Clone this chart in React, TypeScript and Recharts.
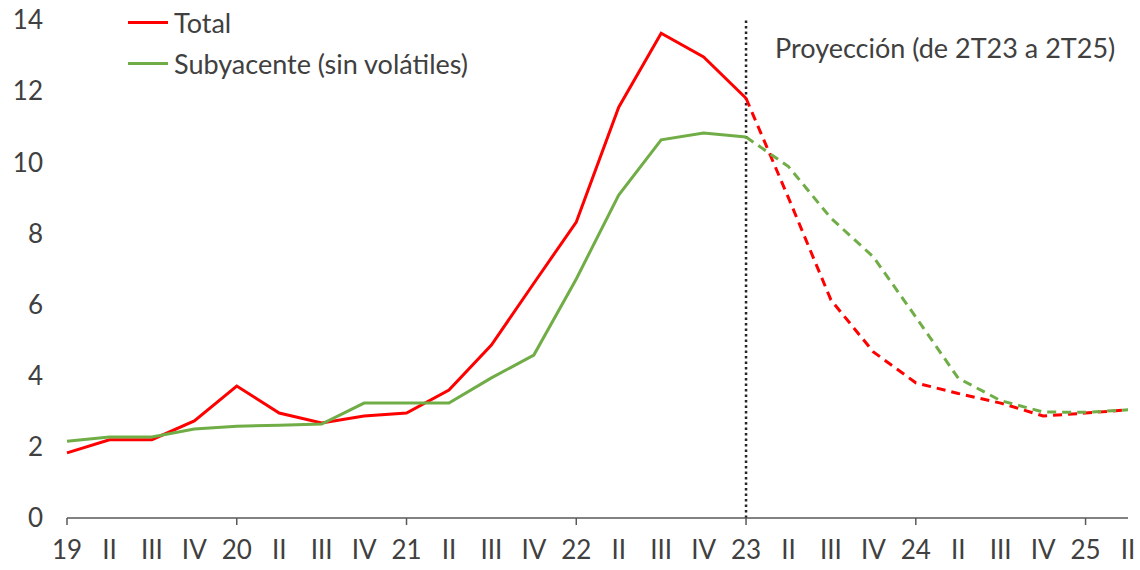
import React from 'react';
import { LineChart, Line, XAxis, YAxis, ReferenceLine } from 'recharts';

const categories = ['19','II','III','IV','20','II','III','IV','21','II','III','IV','22','II','III','IV','23','II','III','IV','24','II','III','IV','25','II'];
const totalValues = [1.83,2.2,2.2,2.73,3.71,2.95,2.67,2.87,2.95,3.6,4.86,6.6,8.32,11.55,13.63,12.96,11.8,9.0,6.13,4.67,3.8,3.5,3.23,2.87,2.95,3.04];
const coreValues = [2.16,2.28,2.28,2.5,2.58,2.61,2.64,3.23,3.23,3.23,3.94,4.58,6.72,9.08,10.63,10.82,10.71,9.88,8.43,7.34,5.65,3.93,3.3,2.98,2.97,3.04];
const projectionStart = 16;
const yTicks = [0,2,4,6,8,10,12,14];
const xTicks = categories.map((_, i) => i);
const seriesNames = ['Total', 'Subyacente (sin volátiles)'];
const projectionLabel = 'Proyección (de 2T23 a 2T25)';

const RED = '#FF0000';
const GREEN = '#70AD47';
const FONT = 'Lato, "Open Sans", sans-serif';

const data = categories.map((c, i) => ({
  idx: i,
  totalA: i <= projectionStart ? totalValues[i] : null,
  totalP: i >= projectionStart ? totalValues[i] : null,
  coreA: i <= projectionStart ? coreValues[i] : null,
  coreP: i >= projectionStart ? coreValues[i] : null,
}));

const XTick = (props: any) => {
  const { x, y, payload } = props;
  const label = categories[payload.value];
  const isYear = payload.value % 4 === 0;
  return (
    <g>
      {isYear && <line x1={x} x2={x} y1={y - 8} y2={y - 1} stroke="#595959" strokeWidth={1.5} />}
      <text x={x} y={y + 33} textAnchor="middle" fill="#404040" fontSize={26} fontFamily={FONT}>{label}</text>
    </g>
  );
};

const ProjLabel = (props: any) => {
  const { viewBox } = props;
  return (
    <text x={viewBox.x + 29} y={viewBox.y + 38} fill="#404040" fontSize={27} fontFamily={FONT}>{projectionLabel}</text>
  );
};

export default function App() {
  return (
    <div style={{ position: 'absolute', left: 0, top: 0, width: 1140, height: 570, background: '#fff' }}>
      <LineChart width={1140} height={570} data={data} margin={{ top: 20, right: 12, bottom: 0, left: 0 }}>
        <XAxis
          dataKey="idx"
          type="number"
          domain={[0, 25]}
          ticks={xTicks}
          interval={0}
          tick={<XTick />}
          tickLine={false}
          axisLine={{ stroke: '#595959', strokeWidth: 1.5 }}
          height={52}
        />
        <YAxis
          domain={[0, 14]}
          ticks={yTicks}
          interval={0}
          axisLine={false}
          tickLine={false}
          width={67}
          tick={{ fill: '#404040', fontSize: 26, fontFamily: FONT, dx: -16 }}
        />
        <ReferenceLine x={projectionStart} stroke="#262626" strokeWidth={2.5} strokeDasharray="2.5 3" segment={[{ x: projectionStart, y: 0 }, { x: projectionStart, y: 14 }]} label={<ProjLabel />} />
        <Line dataKey="totalA" stroke={RED} strokeWidth={3} dot={false} isAnimationActive={false} connectNulls={false} />
        <Line dataKey="totalP" stroke={RED} strokeWidth={3} strokeDasharray="9 6" dot={false} isAnimationActive={false} connectNulls={false} />
        <Line dataKey="coreA" stroke={GREEN} strokeWidth={3} dot={false} isAnimationActive={false} connectNulls={false} />
        <Line dataKey="coreP" stroke={GREEN} strokeWidth={3} strokeDasharray="9 6" dot={false} isAnimationActive={false} connectNulls={false} />
      </LineChart>
      <div style={{ position: 'absolute', left: 128, top: 2, fontFamily: FONT, fontSize: 27, color: '#404040', lineHeight: '41px' }}>
        {seriesNames.map((n, i) => (
          <div key={n} style={{ display: 'flex', alignItems: 'center', whiteSpace: 'nowrap' }}>
            <span style={{ display: 'inline-block', width: 40, height: 3, background: i === 0 ? RED : GREEN, marginRight: 6 }} />
            <span>{n}</span>
          </div>
        ))}
      </div>
    </div>
  );
}
